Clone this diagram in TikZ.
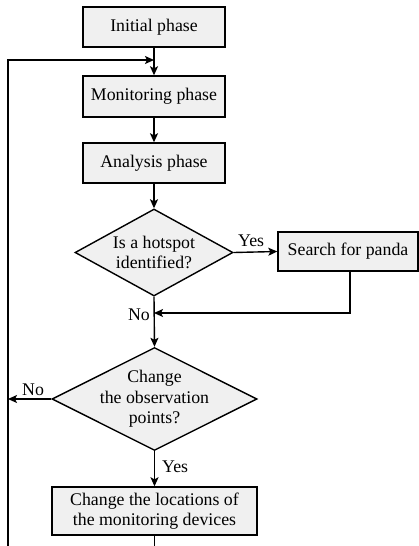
\documentclass[tikz,border=0pt]{standalone}
\usepackage{fontspec}
\setmainfont{Liberation Serif}
\usetikzlibrary{shapes.geometric,arrows.meta}
\definecolor{boxfill}{HTML}{F0F0F0}
\tikzset{
  base/.style={draw=black, line width=1.4pt, fill=boxfill, inner sep=0pt},
  stepbox/.style={base, rectangle},
  decision/.style={base, diamond},
  label text/.style={inner sep=0pt, align=center, font=\fontsize{17.8}{20.5}\selectfont},
  arr/.style={line width=1.4pt, -{Stealth[length=9pt,width=8pt,inset=2pt]}},
  plain/.style={line width=1.4pt},
}
\begin{document}
\begin{tikzpicture}[x=1pt,y=-1pt]
\useasboundingbox (0,0) rectangle (419,546);
\clip (0,0) rectangle (419,546);

% process boxes
\node[stepbox, minimum width=142, minimum height=40] (init) at (154,27) {};
\node[label text] at (init) {Initial phase};
\node[stepbox, minimum width=142, minimum height=41] (mon) at (154,96.5) {};
\node[label text] at (mon) {Monitoring phase};
\node[stepbox, minimum width=142, minimum height=40] (ana) at (154,163) {};
\node[label text] at (ana) {Analysis phase};

% first decision
\node[decision, minimum width=158, minimum height=87] (hot) at (154,252.5) {};
\node[label text] at (hot) {Is a hotspot\\identified?};
\node[stepbox, minimum width=140, minimum height=39] (search) at (348,251.5) {};
\node[label text] at (search) {Search for panda};

% second decision
\node[decision, minimum width=205, minimum height=103] (obs) at (154.5,399) {};
\node[label text] at (obs) {Change\\the observation\\points?};

% relocation step
\node[stepbox, minimum width=205, minimum height=48] (loc) at (154.5,511) {};
\node[label text] at (loc) {Change the locations of\\the monitoring devices};

% helper points for the feedback loop
\coordinate (loopin) at (154,60);
\coordinate (leftx) at (8,300);
\coordinate (loopbot) at (154.5,580);
\coordinate (join) at (154,313);

% main flow
\draw[arr] (init.south) -- (mon.north);
\draw[arr] (mon.south) -- (ana.north);
\draw[arr] (ana.south) -- (hot.north);
\draw[arr] (hot.east) -- node[label text, above=5pt, pos=0.4] {Yes} (search.west);
\draw[arr] ([xshift=2pt]search.south) |- (join);
\draw[arr] (hot.south) -- (obs.north);
\node[label text, anchor=east] at (150,315) {No};
\draw[arr] (obs.south) -- node[label text, right=7pt, pos=0.45] {Yes} (loc.north);
\draw[arr] (obs.west) -- node[label text, above=3pt, pos=0.42] {No} (obs.west -| leftx);

% feedback loop
\draw[arr] (loc.south) -- (loopbot) -| (leftx) |- (loopin);
\end{tikzpicture}
\end{document}
